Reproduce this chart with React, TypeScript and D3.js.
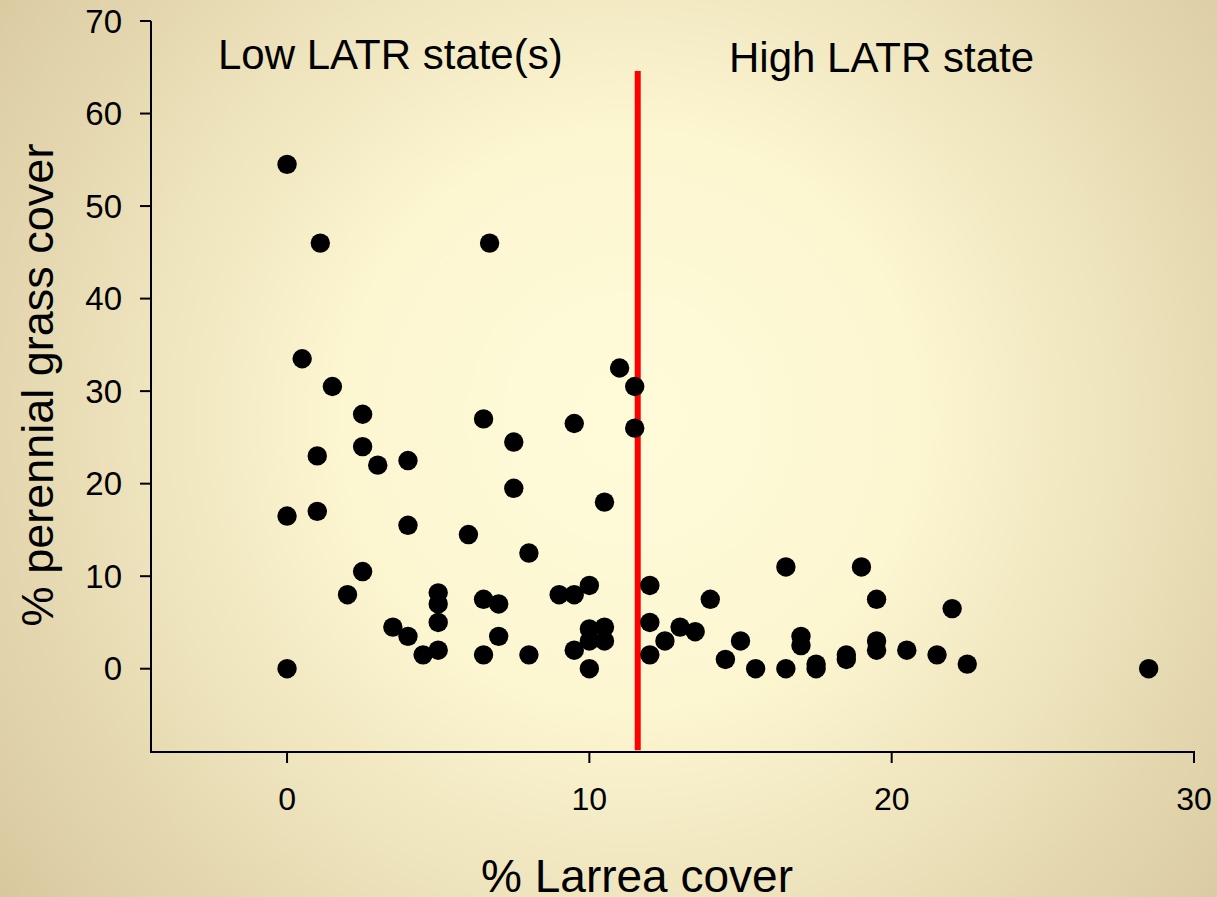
import React from "react";
import * as d3 from "d3";

const larreaCover: number[] = [
  0, 1.1, 6.7, 0.5, 1.5, 11, 11.5, 2.5, 6.5, 9.5, 11.5, 7.5, 2.5, 1, 3, 4, 7.5, 0, 1, 4,
  10.5, 6, 8, 2.5, 2, 5, 5, 3.5, 4, 4.5, 5, 5, 6.5, 7, 7, 6.5, 8, 9, 9.5, 10,
  9.5, 10, 10.5, 10, 10.5, 10, 0, 12, 12, 12, 12.5, 13, 13.5, 14, 14.5, 15, 15.5, 16.5, 16.5, 17,
  17, 17.5, 17.5, 18.5, 18.5, 19, 19.5, 19.5, 19.5, 20.5, 21.5, 22, 22.5, 28.5,
];
const grassCover: number[] = [
  54.5, 46, 46, 33.5, 30.5, 32.5, 30.5, 27.5, 27, 26.5, 26, 24.5, 24, 23, 22, 22.5, 19.5, 16.5, 17, 15.5,
  18, 14.5, 12.5, 10.5, 8, 8.2, 7, 4.5, 3.5, 1.5, 2, 5, 7.5, 7, 3.5, 1.5, 1.5, 8, 8, 9,
  2, 4.3, 4.5, 3, 3, 0, 0, 9, 5, 1.5, 3, 4.5, 4, 7.5, 1, 3, 0, 11, 0, 3.5,
  2.5, 0.5, 0, 1.5, 1, 11, 7.5, 3, 2, 2, 1.5, 6.5, 0.5, 0,
];
const xTicks: number[] = [0, 10, 20, 30];
const yTicks: number[] = [0, 10, 20, 30, 40, 50, 60, 70];
const thresholdX = 11.6;
const thresholdTop = 64.6;
const thresholdBottom = -8.8;
const xDomain: [number, number] = [-4.5, 30];
const yDomain: [number, number] = [-9, 70];

const W = 1217;
const H = 897;
const FONT = "'Liberation Sans', Arial, sans-serif";

export default function App() {
  const x = d3.scaleLinear().domain(xDomain).range([151, 1194]);
  const y = d3.scaleLinear().domain(yDomain).range([752, 21]);
  const pts = larreaCover.map((v, i) => ({ x: v, y: grassCover[i] }));

  return (
    <svg
      width={W}
      height={H}
      style={{ position: "absolute", left: 0, top: 0, display: "block" }}
      fontFamily={FONT}
    >
      <defs>
        <radialGradient id="bg" gradientUnits="userSpaceOnUse" cx={630} cy={420} r={820}>
          <stop offset="0%" stopColor="#FFFBD9" />
          <stop offset="35%" stopColor="#FCF6D1" />
          <stop offset="100%" stopColor="#D6C59B" />
        </radialGradient>
      </defs>
      <rect x={0} y={0} width={W} height={H} fill="url(#bg)" />

      {/* axes */}
      <line x1={x(xDomain[0])} x2={x(xDomain[0])} y1={y(yDomain[1])} y2={y(yDomain[0])} stroke="#000" strokeWidth={2} />
      <line x1={x(xDomain[0]) - 1} x2={x(xDomain[1]) + 1} y1={y(yDomain[0])} y2={y(yDomain[0])} stroke="#000" strokeWidth={2} />
      {yTicks.map((t) => (
        <g key={"y" + t}>
          <line x1={x(xDomain[0]) - 11} x2={x(xDomain[0])} y1={y(t)} y2={y(t)} stroke="#000" strokeWidth={2} />
          <text x={122} y={y(t)} dy="0.35em" textAnchor="end" fontSize={33} fill="#000">
            {t}
          </text>
        </g>
      ))}
      {xTicks.map((t) => (
        <g key={"x" + t}>
          <line x1={x(t)} x2={x(t)} y1={y(yDomain[0])} y2={y(yDomain[0]) + 11} stroke="#000" strokeWidth={2} />
          <text x={x(t)} y={810} textAnchor="middle" fontSize={32} fill="#000">
            {t}
          </text>
        </g>
      ))}

      {/* threshold line */}
      <line
        x1={x(thresholdX)}
        x2={x(thresholdX)}
        y1={y(thresholdTop)}
        y2={y(thresholdBottom)}
        stroke="#FF0000"
        strokeWidth={6}
      />

      {/* points */}
      {pts.map((p, i) => (
        <circle key={i} cx={x(p.x)} cy={y(p.y)} r={9.7} fill="#000" />
      ))}

      {/* labels */}
      <text x={218} y={69} fontSize={42} fill="#000">Low LATR state(s)</text>
      <text x={729} y={72} fontSize={42} fill="#000">High LATR state</text>
      <text x={637} y={892} textAnchor="middle" fontSize={46} fill="#000">% Larrea cover</text>
      <text
        transform={`translate(53, 385) rotate(-90)`}
        textAnchor="middle"
        fontSize={45}
        fill="#000"
      >
        % perennial grass cover
      </text>
    </svg>
  );
}
